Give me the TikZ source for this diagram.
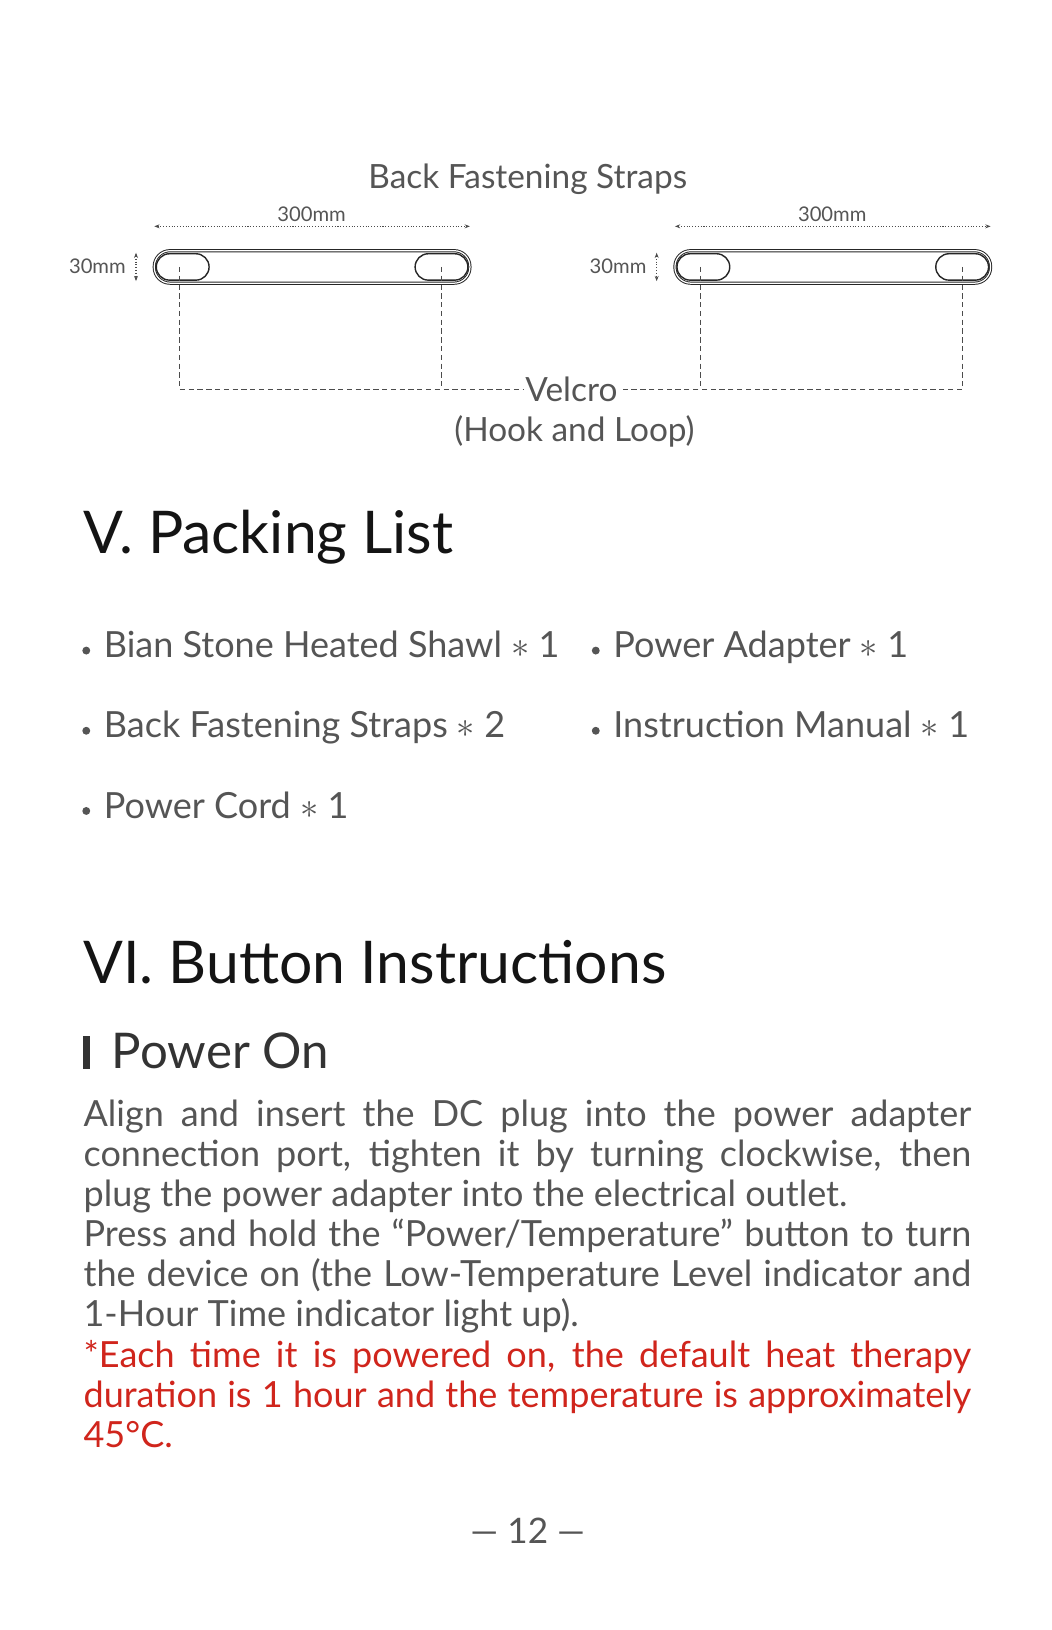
\documentclass[tikz,border=0pt]{standalone}
\usepackage{fontspec}
\setmainfont{Lato}
\usepackage{xcolor}
\usetikzlibrary{arrows.meta}
\definecolor{txt}{HTML}{555555}
\definecolor{warn}{HTML}{D0251C}
\tikzset{
  strap/.style={draw=black!85, double=white, double distance=0.7pt, line width=0.55pt, rounded corners=15.5*0.0203cm},
  loop/.style={draw=black!85, line width=0.8pt, rounded corners=13*0.0203cm},
  dim/.style={densely dotted, draw=black!70, line width=0.6pt, {Stealth[length=3pt]}-{Stealth[length=3pt]}},
  guide/.style={densely dashed, draw=black!70, line width=0.5pt},
  small/.style={text=txt, font=\fontsize{11.5}{13}\selectfont},
  label/.style={text=txt, font=\fontsize{19}{22}\selectfont},
  item/.style={anchor=base west, text=txt, font=\fontsize{20.5}{24}\selectfont, inner sep=0pt},
  dot/.style={circle, fill=txt, inner sep=0pt, minimum size=4.5pt},
  head/.style={anchor=west, text=black!92, inner sep=0pt, font=\fontsize{33.5}{38}\selectfont}
}
\begin{document}
\begin{tikzpicture}[x=0.0203cm, y=-0.0203cm]
  \useasboundingbox (0,0) rectangle (1036,1606);

  % strap picture
  \node[label] (title) at (520,177) {Back Fastening Straps};
  \foreach \n/\x in {a/152,b/665}{
    \draw[strap] (\x,247) rectangle ++(311,32);
    \draw[loop] (\x+2,250) rectangle ++(52,26);
    \draw[loop] (\x+257,250) rectangle ++(52,26);
    \coordinate (\n-l) at (\x,223);
    \coordinate (\n-r) at (\x+311,223);
    \draw[dim] (\n-l) -- (\n-r);
    \node[small] (\n-len) at (\x+155,211) {300mm};
    \coordinate (\n-t) at (\x-18,249);
    \coordinate (\n-b) at (\x-18,277);
    \draw[dim] (\n-t) -- (\n-b);
    \node[small, anchor=east] (\n-wid) at (\x-22,262) {30mm};
    \coordinate (\n-p) at (\x+25,263);
    \coordinate (\n-q) at (\x+283,263);
  }
  \node[label, inner sep=1pt] (velcro) at (563,384) {Velcro};
  \node[label] (hook) at (566,425) {(Hook and Loop)};
  \coordinate (a-qb) at (a-q |- velcro.west);
  \coordinate (b-pb) at (b-p |- velcro.east);
  \draw[guide] (a-p) |- (a-qb) -- (velcro.west);
  \draw[guide] (a-q) -- (a-qb);
  \draw[guide] (b-q) |- (b-pb) -- (velcro.east);
  \draw[guide] (b-p) -- (b-pb);

  % packing list
  \node[head] (pack) at (82,529) {V. Packing List};
  \foreach \t/\x/\y in {Bian Stone Heated Shawl $\ast$ 1/102/648,
                        Back Fastening Straps $\ast$ 2/102/727,
                        Power Cord $\ast$ 1/102/806,
                        Power Adapter $\ast$ 1/604/648,
                        Instruction Manual $\ast$ 1/604/727}{
    \node[dot] at (\x-17,\y-7) {};
    \node[item] at (\x,\y) {\t};
  }

  % buttons
  \node[head] (btn) at (82,948) {VI. Button Instructions};
  \fill[black!80] (82,1021) rectangle (89,1053);
  \node[head, text=black!80, font=\fontsize{28}{32}\selectfont] (pwr) at (110,1035) {Power On};
  \node[anchor=north west, inner sep=0pt, text width=17.75cm, align=justify, text=txt,
        font=\fontsize{20.5}{22.85}\selectfont] (para) at (82,1083)
    {Align and insert the DC plug into the power adapter\linebreak
     connection port, tighten it by turning clockwise, then\linebreak
     plug the power adapter into the electrical outlet.\\
     Press and hold the ``Power/Temperature'' button to turn\linebreak
     the device on (the Low-Temperature Level indicator and\linebreak
     1-Hour Time indicator light up).\\
     \textcolor{warn}{*Each time it is powered on, the default heat therapy\linebreak
     duration is 1 hour and the temperature is approximately\linebreak
     45°C.}};

  % page number
  \node[text=txt, font=\fontsize{20}{24}\selectfont] (page) at (520,1508) {--- 12 ---};
\end{tikzpicture}
\end{document}
